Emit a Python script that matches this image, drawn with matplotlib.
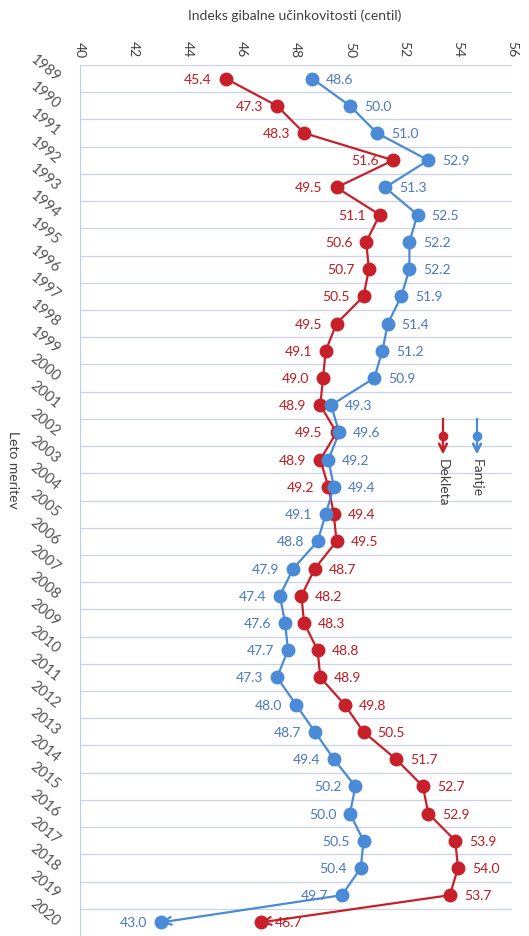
import matplotlib.pyplot as plt
from matplotlib.lines import Line2D

plt.rcParams['font.family'] = ['Lato', 'DejaVu Sans']

years = list(range(1989, 2021))
dekleta = [45.4, 47.3, 48.3, 51.6, 49.5, 51.1, 50.6, 50.7, 50.5, 49.5, 49.1, 49.0,
           48.9, 49.5, 48.9, 49.2, 49.4, 49.5, 48.7, 48.2, 48.3, 48.8, 48.9, 49.8,
           50.5, 51.7, 52.7, 52.9, 53.9, 54.0, 53.7, 46.7]
fantje = [48.6, 50.0, 51.0, 52.9, 51.3, 52.5, 52.2, 52.2, 51.9, 51.4, 51.2, 50.9,
          49.3, 49.6, 49.2, 49.4, 49.1, 48.8, 47.9, 47.4, 47.6, 47.7, 47.3, 48.0,
          48.7, 49.4, 50.2, 50.0, 50.5, 50.4, 49.7, 43.0]
x_ticks = [40, 42, 44, 46, 48, 50, 52, 54, 56]

RED = '#c8202a'
RED_TXT = '#c0191f'
BLUE = '#4a8ad6'
BLUE_TXT = '#4a78c4'

fig = plt.figure(figsize=(5.29, 9.37), dpi=100)
ax = fig.add_axes([80 / 529, 0.0, (512 - 80) / 529, 1 - 66 / 937])

pos = list(range(len(years)))

# lines without last segment, last segment drawn as arrow
for vals, col in [(dekleta, RED), (fantje, BLUE)]:
    ax.plot(vals[:-1], pos[:-1], color=col, lw=1.6, zorder=3)
    ax.plot(vals, pos, 'o', color=col, ms=9, zorder=4)
    ax.annotate('', xy=(vals[-1], pos[-1]), xytext=(vals[-2], pos[-2]),
                arrowprops=dict(arrowstyle='->', color=col, lw=1.6,
                                shrinkA=0, shrinkB=0, mutation_scale=14), zorder=3)

# data labels: before 2005 red left / blue right, from 2005 swapped
for i, y in enumerate(years):
    if y < 2005:
        rd, bd = -1, 1
    else:
        rd, bd = 1, -1
    ax.annotate(f'{dekleta[i]:.1f}', (dekleta[i], i), xytext=(rd * 10, 0),
                textcoords='offset points', ha='left' if rd > 0 else 'right',
                va='center', color=RED_TXT, fontsize=10, zorder=5)
    ax.annotate(f'{fantje[i]:.1f}', (fantje[i], i), xytext=(bd * 10, 0),
                textcoords='offset points', ha='left' if bd > 0 else 'right',
                va='center', color=BLUE_TXT, fontsize=10, zorder=5)

ax.set_xlim(40, 56)
ax.set_ylim(len(years) - 0.5, -0.5)
ax.set_xticks(x_ticks)
ax.set_xticklabels([str(v) for v in x_ticks], rotation=-90, fontsize=10, color='#404040')
ax.xaxis.tick_top()
ax.set_yticks(pos)
ax.set_yticklabels([str(y) for y in years], rotation=-40, rotation_mode='anchor',
                   ha='right', va='center', fontsize=10.5, color='#555555')
ax.tick_params(length=0, pad=6)
ax.tick_params(axis='y', pad=16)

for b in [p + 0.5 for p in pos[:-1]] + [-0.5]:
    ax.axhline(b, color='#cdd2e4', lw=0.9, zorder=1)
for s in ['top', 'right', 'bottom']:
    ax.spines[s].set_visible(False)
ax.spines['left'].set_color('#c4cce4')

fig.text(295 / 529, 1 - 16 / 937, 'Indeks gibalne učinkovitosti (centil)',
         ha='center', va='center', fontsize=10, color='#404040')
fig.text(13 / 529, 1 - 470 / 937, 'Leto meritev', rotation=-90,
         ha='center', va='center', fontsize=10, color='#404040')

# rotated legend
for lx, col, name in [(443, RED, 'Dekleta'), (477, BLUE, 'Fantje')]:
    xf = lx / 529
    fig.add_artist(Line2D([xf, xf], [1 - 420 / 937, 1 - 437 / 937], color=col, lw=1.6))
    fig.add_artist(Line2D([xf], [1 - 437 / 937], marker='o', color=col, ms=6))
    fig.add_artist(plt.annotate('', xy=(xf, 1 - 455 / 937), xytext=(xf, 1 - 437 / 937),
                                xycoords='figure fraction',
                                arrowprops=dict(arrowstyle='->', color=col, lw=1.6,
                                                shrinkA=0, shrinkB=0, mutation_scale=14)))
    fig.text(xf, 1 - 459 / 937, name, rotation=-90, ha='center', va='top',
             fontsize=10, color='#404040')

fig.savefig('out.png', dpi=100)
